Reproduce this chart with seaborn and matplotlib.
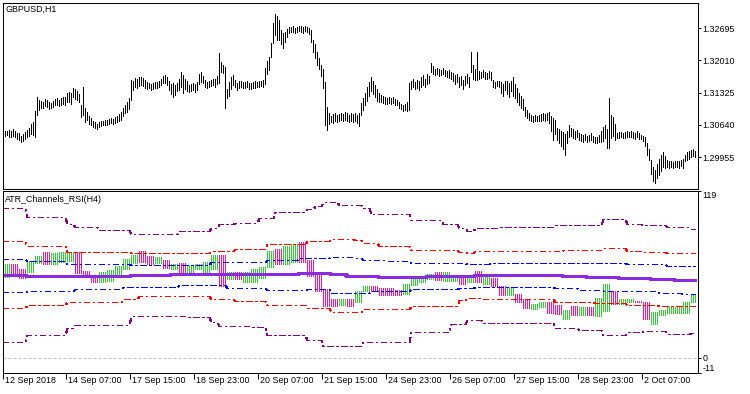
import numpy as np
import matplotlib
matplotlib.use("Agg")
import matplotlib.pyplot as plt
import matplotlib.transforms as mtransforms
import seaborn as sns

# --- Price panel: GBPUSD H1 bars, high/low in pips above 1.2900 ---
bar_high = [153, 151, 150, 153, 151, 154, 150, 147, 146, 141, 144,
            149, 152, 158, 166, 170, 193, 223,
            217, 214, 213, 218, 216, 212, 210, 214, 218, 220, 216, 221, 223, 222, 231, 234, 232,
            242, 240, 236, 230, 206, 244, 200, 191, 182, 178, 172, 170, 165,
            170, 172, 173, 175, 174, 177, 178, 176, 180, 183, 186,
            192, 200, 205, 212, 220, 259, 258, 263, 261, 265, 266, 263, 259, 255,
            253, 250, 252, 255, 254, 257, 262, 268, 270, 266, 258, 250, 253, 248, 252,
            262, 276, 270, 262, 258, 248, 251, 253, 250, 255, 272, 276, 268,
            259, 255, 258, 259, 262, 261, 268, 316, 297, 290, 287, 240, 255, 265, 270,
            260, 252, 256, 258, 255, 254, 256, 253, 252, 254, 256, 255, 257, 258, 259,
            285, 300, 308, 338, 380, 399, 395, 387, 365, 359,
            362, 368, 372, 371, 373, 370, 372, 374, 373, 371, 374, 372, 370,
            365, 345, 335, 318, 305, 290, 282, 255, 202,
            190, 183, 186, 189, 184, 187, 190, 186, 191, 189, 185, 188, 186, 189, 185,
            190, 210, 220, 231, 245, 255, 265, 258, 248, 240, 232, 228, 225,
            222, 220, 223, 221, 222, 219, 216, 212, 208, 206, 209, 212, 253,
            257, 262, 255, 260, 258, 265, 270, 262, 272, 268,
            295, 288, 283, 285, 282, 280, 284, 281, 278, 280, 276, 274,
            270, 272, 265, 268, 260, 268, 272, 265, 319, 290, 282, 319,
            278, 276, 280, 277, 275, 279, 276, 259, 255, 258, 256,
            255, 250, 258, 256, 252, 258, 265, 250, 242, 232, 225, 218, 202, 195, 190,
            185, 182, 184, 183, 185, 186, 188, 187, 190, 192, 182, 178, 175,
            157, 155, 150, 148, 145, 150, 164, 158, 154, 150, 153,
            146, 144, 142, 145, 140, 143, 146, 141, 138, 137, 142,
            150, 160, 164, 155, 221, 185, 180, 165,
            146, 148, 149, 147, 148, 150, 149, 151, 148, 147, 150, 146, 143, 140,
            138, 125, 112, 89, 75, 68, 80, 92, 100, 106, 98,
            89, 86, 88, 85, 87, 88, 86, 89, 92, 100, 106, 108, 110, 112, 108]
bar_low = [140, 141, 143, 139, 138, 141, 137, 134, 131, 127, 129,
           133, 137, 141, 145, 143, 137, 185,
           196, 200, 199, 203, 201, 198, 199, 202, 205, 206, 204, 207, 209, 206, 212, 213, 209,
           222, 219, 217, 213, 180, 185, 170, 174, 166, 163, 160, 158, 155,
           160, 162, 163, 164, 163, 166, 167, 165, 168, 170, 171,
           175, 183, 190, 192, 198, 217, 238, 244, 243, 246, 249, 247, 243, 240,
           242, 238, 240, 242, 243, 244, 248, 252, 253, 249, 238, 230, 223, 228, 235,
           238, 245, 232, 240, 236, 233, 235, 237, 234, 238, 250, 255, 252,
           244, 242, 245, 246, 248, 245, 250, 253, 276, 275, 200, 221, 226, 240, 248,
           244, 238, 242, 245, 243, 242, 244, 241, 241, 242, 243, 244, 245, 246, 244,
           250, 272, 280, 308, 338, 355, 345, 344, 335, 327,
           340, 350, 358, 360, 362, 359, 361, 363, 362, 359, 363, 360, 356,
           340, 318, 305, 290, 282, 268, 242, 164, 153,
           165, 170, 168, 172, 170, 171, 174, 172, 175, 173, 170, 172, 169, 173, 168,
           162, 185, 195, 205, 215, 225, 235, 230, 222, 215, 212, 212, 210,
           208, 209, 211, 209, 210, 207, 205, 200, 197, 194, 196, 193, 195,
           240, 245, 240, 243, 238, 244, 248, 245, 250, 252,
           276, 272, 270, 272, 268, 269, 272, 268, 266, 264, 262, 258,
           250, 255, 244, 248, 240, 248, 252, 245, 276, 262, 260, 259,
           262, 264, 265, 262, 261, 264, 260, 244, 242, 246, 244,
           232, 225, 238, 230, 222, 235, 225, 220, 212, 205, 200, 195, 182, 178, 174,
           172, 170, 171, 172, 173, 172, 174, 173, 175, 168, 150, 132, 145,
           132, 125, 118, 112, 100, 125, 138, 140, 136, 134, 137,
           132, 130, 128, 131, 127, 129, 132, 128, 126, 125, 127,
           128, 130, 135, 115, 115, 135, 140, 132,
           135, 136, 138, 136, 135, 138, 137, 139, 136, 134, 138, 134, 133, 130,
           118, 100, 89, 60, 45, 40, 50, 57, 65, 75, 72,
           74, 72, 74, 73, 74, 75, 73, 76, 72, 86, 90, 92, 95, 97, 96]

price_ticks = [1.32695, 1.32010, 1.31325, 1.30640, 1.29955]
date_labels = ["12 Sep 2018", "14 Sep 07:00", "17 Sep 15:00", "18 Sep 23:00",
               "20 Sep 07:00", "21 Sep 15:00", "24 Sep 23:00", "26 Sep 07:00",
               "27 Sep 15:00", "28 Sep 23:00", "2 Oct 07:00"]
date_pos = [0, 31.5, 63.5, 95.5, 127.5, 159.5, 191.5, 223.5, 255.5, 287.5, 319.5]
rsi_ticks = [119, 0, -11]

# --- Indicator panel: one value per H4 bar ---
hist_open = [57.3, 66.8, 63.2, 61, 67.1, 74.9, 66.4, 68.1, 68.8, 75.4, 62, 59, 53.6, 54.6, 57.8,
             63.2, 67.6, 76.2, 72, 67.1, 69.5, 63.2, 67.6, 60.2, 63.2, 60.2, 63.2, 73, 56.1, 61,
             53.6, 54.1, 56.6, 64.4, 77.4, 66.4, 68.3, 82.3, 69.3, 59, 48.5, 41.4, 37.5, 41.9, 39.9,
             47.3, 51.2, 49.2, 49.2, 48, 45.1, 51.7, 53.6, 56.1, 61, 54.6, 54.6, 57, 54.1, 61.5,
             52.4, 56.6, 51.2, 44.3, 45.5, 41.4, 34.5, 35.7, 39.9, 37.5, 27.2, 36.5, 30.4, 36.2, 29.6,
             33.3, 47.3, 38.2, 39.4, 40.6, 39.9, 24.2, 30.4, 32, 31.6, 32, 39.4]
hist_close = [66.8, 59, 56.6, 68.8, 72, 66.4, 74.2, 74.9, 75.4, 60.2, 58.5, 53.6, 61, 62.7, 65.1,
              70.5, 73, 68.3, 66.8, 71.3, 63.9, 66.4, 59.7, 65.6, 66.4, 68.1, 73, 51.2, 61, 56.1,
              61, 63.4, 64.6, 76.2, 66.4, 79.3, 81, 68.3, 58.3, 47.5, 37, 37, 41.9, 37, 47.3,
              50.9, 47.5, 44.8, 44.3, 44.3, 52.2, 55.8, 57, 59.5, 55.3, 61, 58.3, 52.4, 57.8, 53.6,
              58.3, 51, 44.3, 50, 39.9, 35.3, 38.2, 39.9, 31.6, 30.8, 34, 30.4, 36.2, 30.4, 42.6,
              52.2, 38.2, 41.4, 41.4, 39.4, 27.7, 32.6, 34, 36.2, 36.2, 39.9, 45.5]
mid_line = [59, 59, 59, 58.3, 58.3, 58.3, 58.3, 58.3, 58.3, 58.3, 58.3, 58.3, 58.3, 58.3, 58.3,
            58.3, 59, 59, 59, 59, 59, 59.7, 59.7, 59.7, 59.7, 59.7, 59.7, 59.7, 59.7, 59.7,
            59.7, 59.7, 59.7, 59.7, 59.7, 59.7, 59.7, 60.5, 60.5, 60.5, 60.5, 59.7, 59.7, 58.3, 58.3,
            58.3, 58.3, 57.5, 57.5, 57.5, 57.5, 57.5, 57.5, 58.3, 58.3, 58.3, 58.3, 58.3, 58.3, 59,
            59, 59, 59, 59, 59, 59, 59, 59, 59, 59, 58.3, 58.3, 58.3, 57.3, 57.3,
            57.3, 57.3, 56.6, 56.6, 56.6, 56.6, 55.8, 55.8, 55.8, 55.1, 55.1, 55.1]
blue_up = [70.5, 70.5, 70.5, 68.8, 68.8, 68.8, 68.8, 68.8, 66.8, 66.8, 66.8, 66.8, 66.8, 66.8, 66.8,
           66.8, 65.9, 65.9, 65.9, 65.9, 65.9, 65.9, 65.9, 65.9, 65.9, 65.9, 67.8, 67.8, 67.8, 67.8,
           67.8, 67.8, 67.8, 69.5, 69.5, 69.5, 69.5, 70.8, 70.8, 70.8, 70.8, 71.7, 71.7, 71.7, 70.8,
           69.5, 69.5, 69.5, 68.8, 68.8, 68.8, 67.6, 67.6, 67.6, 67.6, 67.6, 67.6, 67.6, 66.8, 66.8,
           66.8, 67.3, 67.3, 67.3, 67.3, 67.3, 67.3, 67.3, 67.3, 67.3, 67.3, 67.3, 67.3, 67.3, 67.3,
           67.6, 67.6, 67.6, 66.4, 66.4, 66.4, 66.4, 66.4, 65.1, 65.1, 65.1, 65.1]
blue_dn = [46.8, 46.8, 46.8, 47.5, 47.5, 47.5, 47.5, 47.5, 47.5, 48.7, 48.7, 48.7, 48.7, 48.7, 48.7,
           50, 50, 50, 50, 50, 50, 50, 51.7, 51.7, 51.7, 51.7, 51.7, 51.7, 49.7, 49.7,
           49.7, 49.7, 49.7, 48, 48, 48, 48, 48, 48.7, 48.7, 48.7, 46.3, 46.3, 46.3, 46,
           46, 47.5, 47.5, 47.5, 47.5, 47.5, 48.7, 48.7, 48.7, 48.7, 48.7, 48.7, 49.2, 49.2, 50.4,
           50.4, 50.4, 50.4, 50.4, 50.4, 50.4, 50.4, 50.4, 50.4, 49.2, 49.2, 49.2, 48, 48, 48,
           47.3, 47.3, 47.3, 47.3, 47.3, 47.3, 47.3, 46.3, 46.3, 46.3, 45.5, 45.5]
red_up = [82.8, 82.8, 82.8, 79.8, 79.8, 79.8, 79.8, 79.8, 75.4, 75.4, 75.4, 75.4, 75.4, 75.4, 75.4,
          75.4, 74.4, 74.4, 74.4, 74.4, 74.4, 74.4, 74.4, 74.4, 74.4, 74.4, 76.2, 76.2, 76.2, 77.4,
          77.4, 77.4, 77.4, 81.1, 81.1, 81.1, 81.1, 81.1, 82.8, 82.8, 82.8, 84.2, 84.2, 84.2, 83.5,
          81.8, 81.8, 79.8, 79.8, 79.8, 79.8, 76.9, 76.9, 76.9, 76.9, 76.9, 76.9, 75.4, 74.2, 75.7,
          75.7, 75.7, 75.7, 75.7, 75.7, 75.7, 75.7, 75.7, 75.7, 75.7, 76.6, 76.6, 76.6, 76.6, 76.6,
          77.9, 77.9, 77.9, 76.2, 76.2, 75.4, 75.4, 75.4, 74.2, 74.2, 74.2, 74.2]
red_dn = [35, 35, 35, 37.5, 37.5, 37.5, 37.5, 37.5, 39.9, 39.9, 39.9, 39.9, 39.9, 39.9, 39.9,
          41.9, 41.9, 43.8, 43.8, 43.8, 43.8, 43.8, 43.8, 43.8, 43.8, 43.8, 41.9, 41.9, 41.9, 40.6,
          40.6, 40.6, 40.6, 37.5, 37.5, 37.5, 37.5, 37.5, 35, 35, 35, 32.8, 32.8, 32.8, 32.8,
          34.5, 34.5, 34.5, 34.5, 34.5, 34.5, 36.5, 36.5, 36.5, 36.5, 36.5, 36.5, 41.1, 42.4, 42.4,
          41.4, 41.4, 41.4, 41.4, 41.4, 41.4, 41.4, 41.4, 41.4, 39.9, 39.9, 39.9, 39.9, 39.9, 38.9,
          38.9, 38.9, 38.9, 37.5, 37.5, 37.5, 37.5, 36.5, 36.5, 36.5, 36.5, 36.5]
purple_up = [106.3, 106.3, 106.3, 100.4, 100.4, 100.4, 100.4, 100.4, 95.3, 92.9, 92.9, 92.9, 91.1, 91.1, 91.1,
             91.1, 88, 88, 88, 88, 88, 88, 89.9, 89.9, 89.9, 89.9, 92.4, 94.8, 94.8, 96,
             96, 96, 99.7, 99.7, 103.4, 103.4, 103.4, 103.4, 105.8, 108.3, 110.7, 110.7, 109, 109, 109,
             106.6, 102.6, 102.6, 102.6, 102.6, 102.6, 97.7, 97.7, 97.7, 97.7, 95.3, 95.3, 92.4, 89.9, 92.4,
             92.4, 92.4, 92.9, 92.9, 92.9, 92.9, 92.9, 92.9, 92.9, 94.3, 94.3, 94.3, 94.3, 94.3, 94.3,
             98.5, 98.5, 98.5, 95.3, 95.3, 94.3, 94.3, 94.3, 92.9, 92.9, 92.9, 91.6]
purple_dn = [10.8, 10.8, 10.8, 16.4, 16.4, 16.4, 16.4, 16.4, 21.3, 23, 23, 23, 23, 23, 23,
             23, 29.9, 29.9, 29.9, 29.9, 29.9, 29.9, 29.9, 28.7, 28.7, 28.7, 25, 22.8, 22.8, 22.8,
             22.8, 21.8, 21.8, 16.4, 16.4, 16.4, 16.4, 16.4, 12.8, 12.8, 7.9, 7.9, 7.9, 7.9, 8.4,
             11.1, 11.1, 11.1, 11.1, 11.1, 11.1, 18.4, 18.4, 18.4, 18.4, 18.4, 23.8, 23.8, 26.7, 26.7,
             24.5, 24.5, 24.3, 24.3, 24.3, 24.3, 24.3, 24.3, 24.3, 21.3, 21.3, 21.3, 19.4, 19.4, 19.4,
             15.8, 15.8, 15.8, 18.4, 18.4, 18.9, 18.9, 18.9, 17, 17, 17, 17.7]

# --- Style ---
sns.set_theme(style="white")
plt.rcParams['font.family'] = ['Liberation Sans', 'DejaVu Sans']
plt.rcParams['lines.scale_dashes'] = False
FS = 6.4
PX = 0.72  # one pixel in points at dpi 100
GREEN = '#32CD32'
PINK = '#FF1493'
DASHDOT = (0, (4.3, 2.2, 1.4, 2.2))

fig = plt.figure(figsize=(7.5, 3.94), dpi=100)
fig.patch.set_facecolor('white')
ax_p = fig.add_axes([2.5 / 750, 1 - 188.5 / 394, 695 / 750, 186 / 394])
ax_r = fig.add_axes([2.5 / 750, 1 - 373 / 394, 695 / 750, 182.5 / 394])

n = len(bar_high)
assert n == len(bar_low)
idx = np.arange(n)

# price bars
hi = 1.29 + np.array(bar_high) / 1e4
lo = 1.29 + np.array(bar_low) / 1e4
ax_p.vlines(idx, lo, hi, colors='black', linewidths=PX, antialiased=False)

# histogram, each H4 value spread across its four H1 bars
h_open = np.repeat(hist_open, 4)[:n]
h_close = np.repeat(hist_close, 4)[:n]
h_cols = [GREEN if c >= o else PINK for o, c in zip(h_open, h_close)]
ax_r.vlines(idx, np.minimum(h_open, h_close), np.maximum(h_open, h_close),
            colors=h_cols, linewidths=PX, antialiased=False)

ax_r.axhline(0, color='#C0C0C0', lw=PX, linestyle=(0, (2.2, 1.4)))

channel_lines = [
    (purple_up, '#800080'), (purple_dn, '#800080'),
    (red_up, '#FF0000'), (red_dn, '#FF0000'),
    (blue_up, '#0000FF'), (blue_dn, '#0000FF'),
]
for vals, col in channel_lines:
    sns.lineplot(x=idx, y=np.repeat(vals, 4)[:n], ax=ax_r, color=col, linewidth=PX,
                 linestyle=DASHDOT, estimator=None, legend=False, antialiased=False,
                 snap=True)
sns.lineplot(x=idx, y=np.repeat(mid_line, 4)[:n], ax=ax_r, color='#8A2BE2', linewidth=3 * PX,
             estimator=None, legend=False, antialiased=False, snap=True)

# axes
for ax in (ax_p, ax_r):
    ax.set_facecolor('white')
    ax.set_xlim(-0.25, 347.25)
    ax.set_xlabel('')
    ax.set_ylabel('')
    for s in ax.spines.values():
        s.set_visible(True)
        s.set_color('black')
        s.set_linewidth(PX)
    ax.yaxis.tick_right()
    ax.tick_params(axis='y', which='both', direction='out', length=2.4, width=PX,
                   pad=1, labelsize=FS, colors='black', right=True, left=False)

ax_p.set_ylim(1.292862, 1.332370)
ax_p.set_yticks(price_ticks)
ax_p.set_yticklabels([f"{v:.5f}" for v in price_ticks])
ax_p.set_xticks([])

ax_r.set_ylim(-11, 119)
ax_r.set_yticks(rsi_ticks)
ax_r.set_yticklabels([str(v) for v in rsi_ticks])
tl = ax_r.get_yticklabels()
tl[0].set_va('top')
tl[2].set_va('bottom')

ax_r.set_xticks(date_pos)
ax_r.set_xticklabels(date_labels)
ax_r.tick_params(axis='x', direction='out', length=4, width=PX, pad=-1.5,
                 labelsize=FS, colors='black', bottom=True)
shift = mtransforms.ScaledTranslation(2 / 100, 0, fig.dpi_scale_trans)
for lab in ax_r.get_xticklabels():
    lab.set_ha('left')
    lab.set_transform(lab.get_transform() + shift)

fig.text(5 / 750, 1 - 9 / 394, "GBPUSD,H1", ha='left', va='center', fontsize=FS, color='black')
fig.text(5 / 750, 1 - 199 / 394, "ATR_Channels_RSI(H4)", ha='left', va='center',
         fontsize=FS, color='black')

fig.savefig('out.png', dpi=100, facecolor='white')
